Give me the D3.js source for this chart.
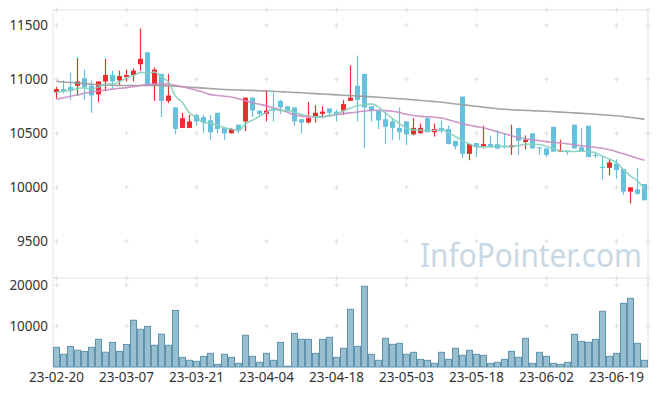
<!DOCTYPE html>
<html>
<head>
<meta charset="utf-8">
<script src="https://cdn.jsdelivr.net/npm/d3@7"></script>
<style>
  body { margin: 0; background: #fff; }
  svg { display: block; font-family: "Noto Sans", sans-serif; }
</style>
</head>
<body>
<svg id="chart1"></svg>
<script>
let w = 657;
let h = 396;
let svg;
let xScale, yScale, vScale;

// trading days, 23-02-20 .. 23-06-23
let dates = [
  "23-02-20","23-02-21","23-02-22","23-02-23","23-02-24","23-02-27","23-02-28",
  "23-03-02","23-03-03","23-03-06","23-03-07","23-03-08","23-03-09","23-03-10","23-03-13","23-03-14","23-03-15","23-03-16","23-03-17","23-03-20","23-03-21","23-03-22","23-03-23","23-03-24","23-03-27","23-03-28","23-03-29","23-03-30","23-03-31",
  "23-04-03","23-04-04","23-04-05","23-04-06","23-04-07","23-04-10","23-04-11","23-04-12","23-04-13","23-04-14","23-04-17","23-04-18","23-04-19","23-04-20","23-04-21","23-04-24","23-04-25","23-04-26","23-04-27","23-04-28",
  "23-05-02","23-05-03","23-05-04","23-05-08","23-05-09","23-05-10","23-05-11","23-05-12","23-05-15","23-05-16","23-05-17","23-05-18","23-05-19","23-05-22","23-05-23","23-05-24","23-05-25","23-05-26","23-05-30","23-05-31",
  "23-06-01","23-06-02","23-06-05","23-06-07","23-06-08","23-06-09","23-06-12","23-06-13","23-06-14","23-06-15","23-06-16","23-06-19","23-06-20","23-06-21","23-06-22","23-06-23"
];

let openP = [10880,10910,10930,10940,11010,10940,10860,10980,11040,10990,11020,11040,11140,11250,10940,11050,10800,10740,10550,10550,
  10670,10650,10620,10690,10550,10500,10580,10610,10830,10710,10680,10730,10800,10750,10740,10630,10600,10660,10680,10730,
  10700,10710,10800,10940,11050,10750,10710,10630,10610,10550,10610,10490,10500,10640,10510,10550,10540,10430,10840,10310,
  10410,10380,10400,10400,10380,10370,10550,10420,10500,10370,10360,10560,10330,10340,10580,10370,10570,10300,10190,10180,
  10220,10170,9960,9980,10030];
let highP = [10930,10990,11060,11200,11090,10990,10980,11190,11080,11080,11090,11100,11470,11250,11110,11050,11050,10740,10690,10670,
  10680,10670,10670,10690,10550,10550,10580,10830,10830,10710,10900,10880,10810,10750,10740,10630,10790,10760,10750,10730,
  10720,10810,11130,11220,11050,10750,10710,10700,10640,10740,10610,10640,10590,10650,10590,10620,10570,10430,10840,10400,
  10410,10570,10480,10530,10500,10580,10550,10480,10500,10370,10360,10560,10440,10340,10580,10550,10570,10330,10290,10260,
  10260,10170,10000,10180,10030];
let lowP = [10820,10870,10810,10850,10810,10690,10790,10890,10920,10940,10980,10980,11080,10940,10800,10650,10780,10490,10550,10550,
  10570,10500,10440,10500,10440,10500,10500,10520,10650,10650,10610,10610,10680,10700,10570,10500,10590,10600,10640,10650,
  10610,10670,10800,10610,10360,10610,10540,10400,10440,10440,10390,10480,10500,10510,10470,10500,10400,10350,10270,10250,
  10280,10360,10370,10350,10360,10300,10300,10350,10360,10300,10280,10330,10330,10300,10360,10330,10280,10270,10070,10110,
  10080,9930,9850,9930,9880];
let closeP = [10910,10890,10900,10980,10930,10850,10980,11040,10980,11030,11040,11080,11190,10940,11090,10800,10850,10540,10640,10610,
  10610,10600,10510,10540,10500,10540,10530,10830,10710,10680,10710,10710,10740,10710,10610,10600,10640,10690,10700,10690,
  10680,10770,10830,10810,10740,10710,10620,10560,10550,10510,10490,10550,10550,10510,10540,10520,10400,10380,10310,10400,
  10380,10400,10380,10360,10370,10390,10430,10440,10360,10360,10300,10330,10340,10330,10360,10330,10280,10290,10180,10230,
  10160,9960,10000,9940,9880];
// closes of the 4 sessions before 23-02-20 (for the 5-day average)
let prevCloses = [10850, 10870, 10880, 10900];

let ma20 = [10815,10829,10843,10856,10870,10882,10892,10901,10909,10917,10923,10932,10942,10951,10956,10960,10954,10944,10931,10915,
  10898,10880,10858,10850,10843,10836,10819,10801,10782,10769,10755,10736,10718,10694,10671,10659,10653,10651,10655,10662,
  10671,10682,10690,10697,10706,10711,10713,10710,10704,10692,10676,10665,10657,10653,10648,10641,10625,10606,10588,10574,
  10562,10551,10532,10514,10495,10477,10458,10449,10440,10431,10423,10417,10410,10403,10394,10384,10377,10370,10361,10347,
  10329,10310,10289,10269,10250];
let ma60 = [10981,10975,10970,10965,10960,10954,10950,10947,10945,10943,10942,10942,10943,10944,10944,10941,10938,10935,10931,10927,
  10923,10918,10914,10910,10906,10903,10901,10899,10897,10894,10892,10889,10885,10882,10878,10875,10871,10867,10864,10860,
  10856,10852,10849,10845,10842,10838,10834,10829,10824,10820,10815,10810,10804,10799,10793,10787,10780,10772,10765,10757,
  10750,10742,10735,10727,10722,10718,10715,10712,10709,10706,10704,10700,10696,10693,10689,10685,10681,10676,10672,10667,
  10662,10655,10647,10639,10630];

let volume = [4800,3100,5000,4100,3800,4800,6750,3600,6000,3800,5500,11400,9200,9900,5300,8000,5300,13800,2350,1630,
  1380,2600,3330,650,3100,2350,900,7730,2600,1140,3330,1630,6000,170,8200,6750,6750,3330,6750,7250,
  2350,4550,14070,5040,19680,3100,1630,7000,5530,5770,3100,3580,1870,1630,900,3580,1870,4550,2850,4070,
  3100,2850,900,1140,1870,3820,2360,7000,900,3580,2600,900,650,1140,7970,6260,6020,6750,13580,2600,
  3330,15530,16750,5770,1630];

let priceTicks = [9500, 10000, 10500, 11000, 11500];
let volTicks = [10000, 20000];
let xTicks = ["23-02-20","23-03-07","23-03-21","23-04-04","23-04-18","23-05-03","23-05-18","23-06-02","23-06-19"];

function initGraph() {
  let left = 53, right = 648, top = 10, volTop = 278, volBottom = 367;

  let dataset = dates.map((d, i) => ({
    date: d, open: openP[i], high: highP[i], low: lowP[i], close: closeP[i],
    vol: volume[i], ma20: ma20[i], ma60: ma60[i]
  }));
  let allCloses = prevCloses.concat(closeP);
  dataset.forEach((d, i) => { d.ma5 = d3.mean(allCloses.slice(i, i + 5)); });

  svg = d3.select('#chart1')
    .attr('width', w)
    .attr('height', h);

  xScale = d3.scaleBand().domain(dates).range([left, right]).padding(0);
  yScale = d3.scaleLinear().domain([9500, 11500]).range([241.3, 25.3]);
  vScale = d3.scaleLinear().domain([0, 20000]).range([volBottom, 285]);
  let cx = d => xScale(d) + xScale.bandwidth() / 2;

  // frame
  svg.append('path')
    .attr('d', `M${left},${volBottom}V${top}H${right}V${volBottom}M${left},${volTop}H${right}`)
    .attr('fill', 'none').attr('stroke', '#e3e3e3').attr('stroke-width', 1);

  // grid crosses
  let gx = xTicks.map(cx).concat([right]);
  let gy = priceTicks.map(yScale).concat([top], volTicks.map(vScale), [volTop]);
  let crosses = [];
  gx.forEach(x => gy.forEach(y => crosses.push([x, y])));
  svg.append('g').selectAll('path')
    .data(crosses).enter().append('path')
    .attr('d', d => `M${d[0] - 2.5},${d[1]}h5M${d[0]},${d[1] - 2.5}v5`)
    .attr('stroke', '#e0e0e0').attr('stroke-width', 1);

  // watermark
  svg.append('text')
    .attr('transform', 'translate(420,267) scale(0.93,1)')
    .attr('font-size', 32)
    .attr('fill', '#c8d8e4')
    .text('InfoPointer.com');

  // volume
  svg.append('g').selectAll('rect')
    .data(dataset).enter().append('rect')
    .attr('x', d => xScale(d.date) + 0.5)
    .attr('y', d => vScale(d.vol))
    .attr('width', xScale.bandwidth() - 1)
    .attr('height', d => vScale(0) - vScale(d.vol))
    .attr('fill', '#98bfcf')
    .attr('stroke', '#5f93ad').attr('stroke-width', 1);

  // candles
  let up = '#ec2d2f', down = '#66c1dc';
  let candles = svg.append('g').selectAll('g')
    .data(dataset).enter().append('g');
  candles.append('line')
    .attr('x1', d => cx(d.date)).attr('x2', d => cx(d.date))
    .attr('y1', d => yScale(d.high)).attr('y2', d => yScale(d.low))
    .attr('stroke', d => d.close >= d.open ? up : down).attr('stroke-width', 1.2);
  candles.append('rect')
    .attr('x', d => cx(d.date) - 2.5)
    .attr('y', d => yScale(Math.max(d.open, d.close)))
    .attr('width', 5)
    .attr('height', d => Math.max(1, Math.abs(yScale(d.open) - yScale(d.close))))
    .attr('fill', d => d.close >= d.open ? up : down);

  // moving averages
  let lines = [['ma60', '#9a9a9a'], ['ma20', '#c98cc3'], ['ma5', '#86cfbd']];
  lines.forEach(l => {
    let lineFunction = d3.line()
      .x(d => cx(d.date))
      .y(d => yScale(d[l[0]]))
      .curve(d3.curveMonotoneX);
    svg.append('path')
      .attr('d', lineFunction(dataset))
      .attr('fill', 'none')
      .attr('stroke', l[1])
      .attr('stroke-width', 1.6)
      .attr('opacity', 0.9);
  });

  // axes
  let yAxis = d3.axisLeft(yScale).tickValues(priceTicks).tickFormat(d3.format('d')).tickSize(0).tickPadding(5);
  let vAxis = d3.axisLeft(vScale).tickValues(volTicks).tickFormat(d3.format('d')).tickSize(0).tickPadding(5);
  let xAxis = d3.axisBottom(xScale).tickValues(xTicks).tickSize(0).tickPadding(5);

  [svg.append('g').attr('transform', `translate(${left},0)`).call(yAxis),
   svg.append('g').attr('transform', `translate(${left},0)`).call(vAxis),
   svg.append('g').attr('transform', `translate(0,${volBottom})`).call(xAxis)]
    .forEach(g => {
      g.select('.domain').remove();
      g.selectAll('text')
        .attr('fill', '#333')
        .attr('font-family', '"Noto Sans", sans-serif')
        .attr('font-size', 13.5);
    });
}

window.onload = initGraph;
</script>
</body>
</html>
